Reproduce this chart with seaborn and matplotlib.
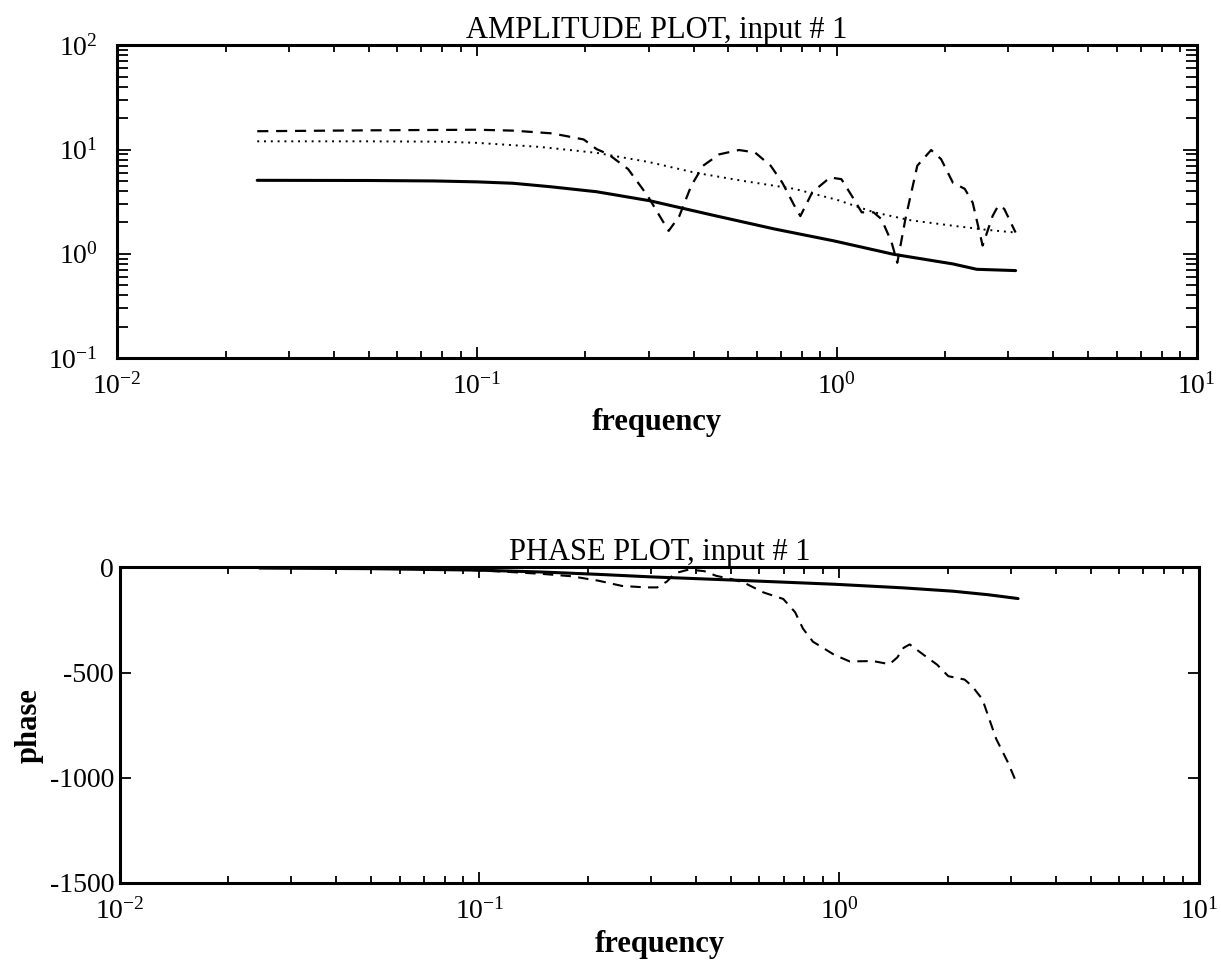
import numpy as np
import pandas as pd
import seaborn as sns
import matplotlib
matplotlib.use("Agg")
import matplotlib.pyplot as plt
from matplotlib.ticker import LogLocator, NullLocator, NullFormatter

# ---- data ----
# amplitude, solid line
amp_solid_f = [0.0245, 0.05, 0.076, 0.1, 0.126, 0.16, 0.215, 0.302, 0.459, 0.671, 0.982, 1.436, 2.10, 2.45, 3.14]
amp_solid = [5.07, 5.05, 5.0, 4.9, 4.75, 4.4, 3.94, 3.23, 2.32, 1.73, 1.33, 0.99, 0.80, 0.71, 0.69]

# amplitude, dotted line
amp_dot_f = [0.0245, 0.05, 0.08, 0.1, 0.15, 0.215, 0.3, 0.404, 0.55, 0.762, 1.0, 1.27, 1.6, 2.1, 2.6, 3.14]
amp_dot = [12.0, 12.0, 11.9, 11.6, 10.6, 9.3, 7.6, 6.0, 5.0, 4.2, 3.3, 2.5, 2.1, 1.86, 1.7, 1.6]

# amplitude, dashed line
amp_dash_f = [0.0245, 0.05, 0.1, 0.126, 0.162, 0.198, 0.215, 0.232, 0.263, 0.298, 0.322, 0.341,
              0.365, 0.394, 0.425, 0.471, 0.535, 0.592, 0.655, 0.706, 0.762, 0.792, 0.855, 0.958,
              1.03, 1.115, 1.173, 1.265, 1.331, 1.419, 1.473, 1.551, 1.674, 1.829, 1.949, 2.103,
              2.268, 2.386, 2.543, 2.71, 2.81, 2.92, 3.14]
amp_dash = [15.0, 15.3, 15.5, 15.2, 14.3, 12.5, 10.1, 9.0, 6.5, 3.6, 2.3, 1.66,
            2.3, 4.5, 7.0, 9.0, 9.9, 9.4, 7.0, 4.8, 2.9, 2.3, 3.9, 5.4,
            5.2, 3.35, 2.5, 2.5, 2.15, 1.3, 0.82, 2.15, 7.0, 9.9, 8.1, 4.8,
            4.2, 3.1, 1.2, 2.3, 2.9, 2.7, 1.6]

# phase, solid line
ph_solid_f = [0.0245, 0.05, 0.1, 0.15, 0.214, 0.3, 0.455, 0.7, 0.97, 1.5, 2.07, 2.6, 3.14]
ph_solid = [-3, -6, -13, -22, -33, -45, -57, -70, -80, -97, -113, -130, -148]

# phase, dashed line
ph_dash_f = [0.0245, 0.05, 0.075, 0.1, 0.125, 0.15, 0.18, 0.214, 0.249, 0.29, 0.312, 0.332,
             0.349, 0.382, 0.422, 0.455, 0.5, 0.543, 0.616, 0.699, 0.754, 0.793, 0.845, 0.97,
             1.07, 1.24, 1.38, 1.45, 1.51, 1.57, 1.73, 1.87, 2.01, 2.23, 2.34, 2.5, 2.73,
             2.94, 3.13]
ph_dash = [0, -2, -7, -14, -23, -31, -42, -63, -88, -95, -95, -67,
           -28, -10, -18, -40, -55, -72, -119, -150, -213, -291, -353, -416,
           -447, -445, -460, -428, -382, -366, -420, -462, -517, -533, -564, -627, -815,
           -925, -1035]

phase_ticks = [0, -500, -1000, -1500]
phase_tick_labels = ["0", "-500", "-1000", "-1500"]

sns.set_theme(style="ticks")
plt.rcParams["font.family"] = ["Liberation Serif", "DejaVu Serif"]
plt.rcParams["mathtext.fontset"] = "custom"
plt.rcParams["mathtext.rm"] = "Liberation Serif"
plt.rcParams["mathtext.it"] = "Liberation Serif:italic"
plt.rcParams["mathtext.bf"] = "Liberation Serif:bold"
plt.rcParams["mathtext.default"] = "regular"
plt.rcParams["text.color"] = "black"
plt.rcParams["axes.labelcolor"] = "black"

fs = 22
tfs = 20
fig = plt.figure(figsize=(12.21, 9.65), dpi=100)
ax1 = fig.add_axes([0.096, 0.629, 0.884, 0.324])
ax2 = fig.add_axes([0.098, 0.085, 0.884, 0.327])

dash = (0, (5, 3.5))
dot = (0, (1, 2.5))

# amplitude plot
sns.lineplot(x=amp_solid_f, y=amp_solid, ax=ax1, color="black", lw=2.2, estimator=None, sort=False)
sns.lineplot(x=amp_dash_f, y=amp_dash, ax=ax1, color="black", lw=1.6, estimator=None, sort=False,
             linestyle=dash)
sns.lineplot(x=amp_dot_f, y=amp_dot, ax=ax1, color="black", lw=1.4, estimator=None, sort=False,
             linestyle=dot)
ax1.set_xscale("log")
ax1.set_yscale("log")
ax1.set_xlim(0.01, 10)
ax1.set_ylim(0.1, 100)
ax1.set_title("AMPLITUDE PLOT, input # 1", fontsize=fs, pad=1, color="black")
ax1.set_xlabel("frequency", fontsize=fs, fontweight="bold", labelpad=6)
ax1.yaxis.set_minor_locator(LogLocator(base=10, subs=np.arange(2, 10), numticks=20))
ax1.yaxis.set_minor_formatter(NullFormatter())

# phase plot
sns.lineplot(x=ph_solid_f, y=ph_solid, ax=ax2, color="black", lw=2.2, estimator=None, sort=False)
sns.lineplot(x=ph_dash_f, y=ph_dash, ax=ax2, color="black", lw=1.5, estimator=None, sort=False,
             linestyle=dash)
ax2.set_xscale("log")
ax2.set_xlim(0.01, 10)
ax2.set_ylim(-1500, 0)
ax2.set_yticks(phase_ticks)
ax2.set_yticklabels(phase_tick_labels)
ax2.yaxis.set_minor_locator(NullLocator())
ax2.set_title("PHASE PLOT, input # 1", fontsize=fs, pad=1, color="black")
ax2.set_xlabel("frequency", fontsize=fs, fontweight="bold", labelpad=4)
ax2.set_ylabel("phase", fontsize=fs, fontweight="bold", labelpad=4)

for ax in (ax1, ax2):
    ax.xaxis.set_minor_locator(LogLocator(base=10, subs=np.arange(2, 10), numticks=20))
    ax.xaxis.set_minor_formatter(NullFormatter())
    for s in ax.spines.values():
        s.set_linewidth(2.2)
        s.set_color("black")
    ax.tick_params(which="both", direction="in", top=True, right=True, colors="black",
                   labelsize=tfs, width=1.3)
    ax.tick_params(which="major", length=8)
    ax.tick_params(which="minor", length=5)
    ax.tick_params(axis="x", which="major", pad=11)
    ax.grid(False)

ax1.tick_params(axis="y", which="minor", length=8)
ax1.tick_params(axis="y", which="major", length=10, pad=14)
ax2.tick_params(axis="y", which="major", pad=4)

fig.savefig("out.png", dpi=100, facecolor="white")
